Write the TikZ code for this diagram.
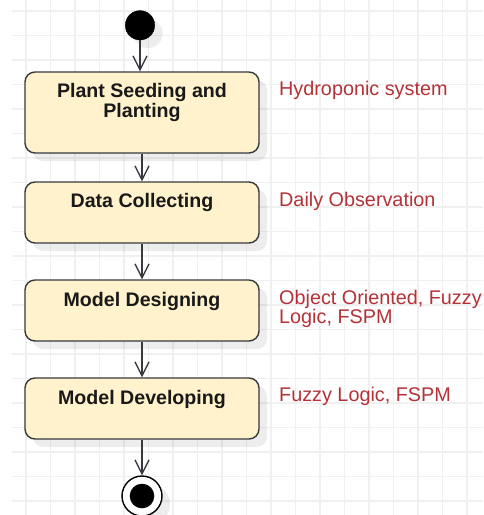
\documentclass[tikz,border=0pt]{standalone}
\usepackage{fontspec}
\setmainfont{Liberation Sans}
\usetikzlibrary{arrows.meta,shadows}

\definecolor{gridcol}{RGB}{240,240,240}
\definecolor{edgecol}{RGB}{54,57,61}
\definecolor{boxfill}{RGB}{255,242,204}
\definecolor{notecol}{RGB}{180,50,55}

\tikzset{
  gridline/.style={draw=gridcol, line width=1.3pt},
  softshadow/.style={drop shadow={shadow xshift=8pt, shadow yshift=-8pt, fill=black, opacity=0.07}},
  stepbox/.style={rectangle, rounded corners=10pt, draw=edgecol, fill=boxfill,
    line width=1.4pt, minimum width=234pt, inner sep=0pt, softshadow},
  steptext/.style={font=\fontsize{19.6}{20}\selectfont\bfseries, text=black!90,
    align=center, inner sep=0pt},
  note/.style={font=\fontsize{19.8}{19.4}\selectfont, text=notecol,
    align=left, inner sep=0pt, anchor=base west},
  flow/.style={draw=edgecol, line width=1.3pt,
    -{Straight Barb[length=14pt, width=14pt, line width=1.3pt]}},
  startdot/.style={circle, fill=black, draw=black, minimum size=29.4pt,
    inner sep=0pt, softshadow},
  endring/.style={circle, fill=white, draw=black, line width=1.4pt,
    minimum size=40pt, inner sep=0pt, softshadow},
  enddot/.style={circle, fill=black, minimum size=24.6pt, inner sep=0pt}
}

\begin{document}
\begin{tikzpicture}[x=1pt, y=-1pt]
  \useasboundingbox (0,0) rectangle (483,515);
  \fill[white] (0,0) rectangle (483,515);

  % background grid
  \foreach \i in {0,...,18}
    \draw[gridline] ({26+24.5*\i},0) -- ({26+24.5*\i},515);
  \foreach \j in {0,...,20}
    \draw[gridline] (12,{11+24.5*\j}) -- (483,{11+24.5*\j});

  % initial and final states
  \node[startdot] (start) at (140,25.3) {};
  \node[endring] (stop) at (142,496) {};
  \node[enddot] (stopdot) at (stop.center) {};

  % activity boxes
  \node[stepbox, minimum height=81pt] (b1) at (142,112.5) {};
  \node[stepbox, minimum height=61pt] (b2) at (142,212.5) {};
  \node[stepbox, minimum height=61pt] (b3) at (142,310.5) {};
  \node[stepbox, minimum height=61pt] (b4) at (142,408.5) {};

  % box captions
  \node[steptext, anchor=base] (t1a) at (142,97.3) {Plant Seeding and};
  \node[steptext, anchor=base] (t1b) at (142,117.3) {Planting};
  \node[steptext, anchor=base] (t2) at (142,207.3) {Data Collecting};
  \node[steptext, anchor=base] (t3) at (142,306) {Model Designing};
  \node[steptext, anchor=base] (t4) at (142,404) {Model Developing};

  % side notes
  \node[note] (n1) at (279,95.7) {Hydroponic system};
  \node[note] (n2) at (279,206) {Daily Observation};
  \node[note] (n3a) at (279,304) {Object Oriented, Fuzzy};
  \node[note] (n3b) at (279,323.3) {Logic, FSPM};
  \node[note] (n4) at (279,401.7) {Fuzzy Logic, FSPM};

  % control flow
  \draw[flow] (start) -- (start |- b1.north);
  \draw[flow] (b1) -- (b2);
  \draw[flow] (b2) -- (b3);
  \draw[flow] (b3) -- (b4);
  \draw[flow] (b4) -- (stop);
\end{tikzpicture}
\end{document}
